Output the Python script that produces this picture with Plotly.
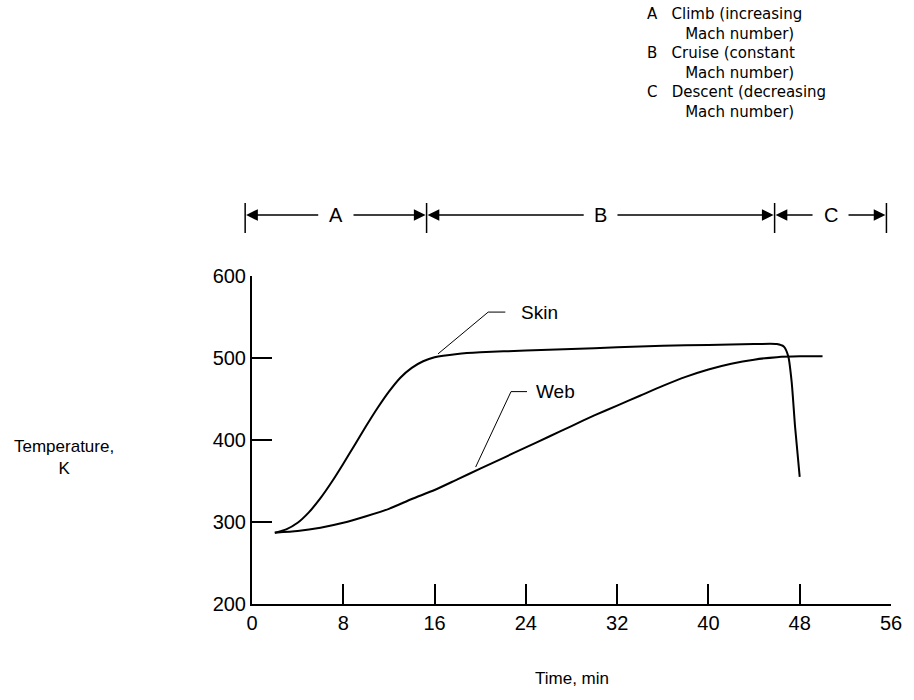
import plotly.graph_objects as go

# ---------------- data ----------------
skin_t = [2, 3, 4, 5, 6, 7, 8, 9, 10, 11, 12, 13, 14, 15, 16, 18, 20, 24, 28, 32, 36, 40, 44, 46, 46.6, 47.0, 47.3, 47.6, 48.0]
skin_T = [287, 291, 299, 312, 329, 349, 371, 394, 417, 439, 459, 476, 488, 496, 501, 505, 507, 509, 511, 513, 515, 516, 517, 517, 514, 502, 470, 415, 355]

web_t = [2, 4, 6, 8, 10, 12, 14, 16, 18, 20, 22, 24, 26, 28, 30, 32, 34, 36, 38, 40, 42, 44, 46, 48, 50]
web_T = [287, 289, 293, 299, 307, 316, 328, 339, 352, 365, 378, 391, 404, 417, 430, 442, 454, 466, 477, 486, 493, 498, 501, 502, 502]

x_ticks = [0, 8, 16, 24, 32, 40, 48, 56]
y_ticks = [200, 300, 400, 500, 600]

phase_names = ["A", "B", "C"]
phase_bounds = [-0.6, 15.3, 45.8, 55.6]   # minutes

legend_lines = [
    ("A", "Climb (increasing", "Mach number)"),
    ("B", "Cruise (constant", "Mach number)"),
    ("C", "Descent (decreasing", "Mach number)"),
]

# ---------------- layout constants ----------------
W, H = 914, 700
ML, MR, MT, MB = 252, 17, 276, 96
PW = W - ML - MR
PH = H - MT - MB
XR = (0, 56)
YR = (200, 600)

WORD_FONT = "Liberation Sans, Arial, sans-serif"
NUM_FONT = "Liberation Sans, Arial, sans-serif"
LEG_FONT = "DejaVu Sans, Liberation Sans, sans-serif"
NB = "\u00a0"


def xp(t):
    return (t - XR[0]) / (XR[1] - XR[0])


def px_y(py):  # pixel row -> paper y
    return (H - MB - py) / PH


fig = go.Figure()
line_style = dict(color="black", width=2, shape="spline", smoothing=0.6)
fig.add_trace(go.Scatter(x=skin_t, y=skin_T, mode="lines", line=line_style, name="Skin",
                         showlegend=False, hoverinfo="skip"))
fig.add_trace(go.Scatter(x=web_t, y=web_T, mode="lines", line=line_style, name="Web",
                         showlegend=False, hoverinfo="skip"))

shapes = []
annotations = []

# leader lines for curve labels
leaders = [
    ([16.3, 20.7, 22.2], [505, 556, 556], "Skin", 25.2, 556),
    ([19.6, 22.7, 24.1], [367, 459, 459], "Web", 26.6, 459),
]
for lx, ly, txt, tx, ty in leaders:
    fig.add_trace(go.Scatter(x=lx, y=ly, mode="lines", line=dict(color="black", width=1),
                             showlegend=False, hoverinfo="skip"))
    annotations.append(dict(x=tx, y=ty, xref="x", yref="y", text=txt, showarrow=False,
                            font=dict(family=WORD_FONT, size=19, color="black"),
                            xanchor="center", yanchor="middle"))

# phase bar above the plot
bar_y = px_y(215)
bar_top = px_y(203)
bar_bot = px_y(233)
for b in phase_bounds:
    shapes.append(dict(type="line", xref="paper", yref="paper", x0=xp(b), x1=xp(b),
                       y0=bar_bot, y1=bar_top, line=dict(color="black", width=1.5)))
for i, name in enumerate(phase_names):
    a, b = phase_bounds[i], phase_bounds[i + 1]
    mid = (a + b) / 2
    annotations.append(dict(x=xp(mid), y=bar_y, xref="paper", yref="paper", text=name,
                            showarrow=False, font=dict(family=WORD_FONT, size=20, color="black"),
                            xanchor="center", yanchor="middle"))
    for tip, sgn in ((a, -1), (b, 1)):
        tail_px = (mid - tip) / (XR[1] - XR[0]) * PW + sgn * 17
        annotations.append(dict(x=xp(tip), y=bar_y, xref="paper", yref="paper", text="",
                                showarrow=True, ax=tail_px, ay=0, axref="pixel", ayref="pixel",
                                arrowhead=2, arrowsize=1.8, arrowwidth=1.3, arrowcolor="black",
                                standoff=1))

# legend text top right (one block so the rows keep a tight spacing)
rows = []
for letter, l1, l2 in legend_lines:
    rows.append(letter + NB * 3 + l1)
    rows.append(NB * 8 + l2)
annotations.append(dict(x=(649 - ML) / PW, y=px_y(3), xref="paper", yref="paper",
                        text="<br>".join(rows), showarrow=False, xanchor="left", yanchor="top",
                        align="left", font=dict(family=LEG_FONT, size=15, color="black")))

# axis titles
annotations.append(dict(x=(62 - ML) / PW, y=px_y(457), xref="paper", yref="paper",
                        text="Temperature,<br>K", showarrow=False, xanchor="center",
                        yanchor="middle", align="center",
                        font=dict(family=WORD_FONT, size=17, color="black")))
annotations.append(dict(x=(575 - ML) / PW, y=px_y(678), xref="paper", yref="paper",
                        text="Time, min", showarrow=False, xanchor="center",
                        yanchor="middle", font=dict(family=WORD_FONT, size=17, color="black")))

fig.update_layout(
    width=W, height=H,
    margin=dict(l=ML, r=MR, t=MT, b=MB, pad=0),
    paper_bgcolor="white", plot_bgcolor="white",
    shapes=shapes, annotations=annotations,
    showlegend=False,
    xaxis=dict(range=list(XR), tickvals=x_ticks, ticktext=[str(v) for v in x_ticks],
               showgrid=False, zeroline=False, showline=True, linecolor="black", linewidth=2,
               ticks="inside", ticklen=20, tickwidth=1.5, tickcolor="black",
               tickfont=dict(family=NUM_FONT, size=20, color="black")),
    yaxis=dict(range=list(YR), tickvals=y_ticks, ticktext=[str(v) for v in y_ticks],
               showgrid=False, zeroline=False, showline=True, linecolor="black", linewidth=2,
               ticks="inside", ticklen=20, tickwidth=1.5, tickcolor="black",
               tickfont=dict(family=NUM_FONT, size=20, color="black")),
)

fig.write_html("out.html")
